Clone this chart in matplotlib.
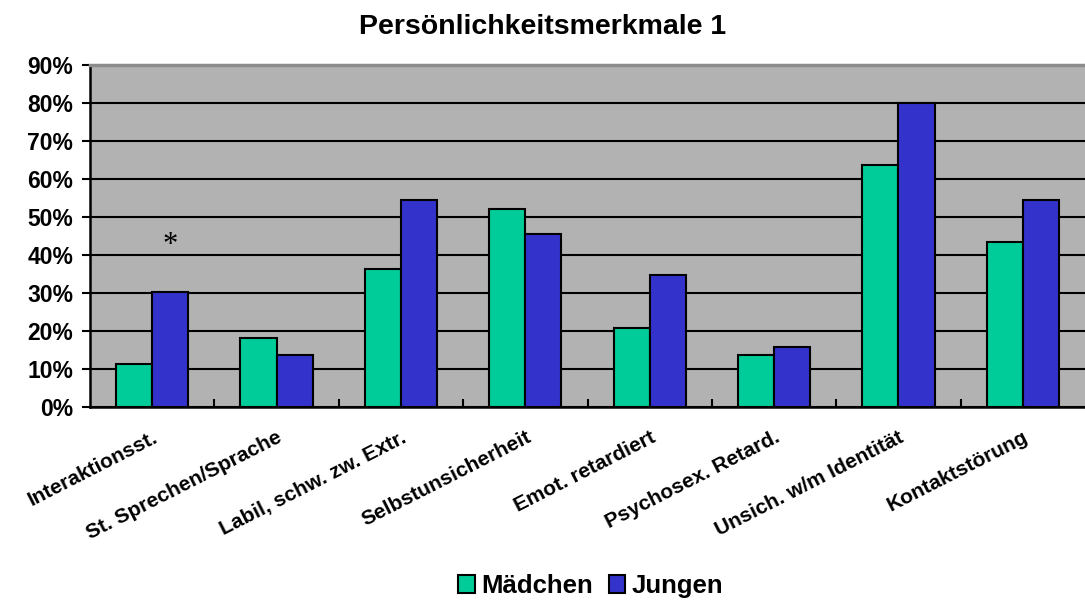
import matplotlib.pyplot as plt
import numpy as np
from matplotlib.ticker import PercentFormatter, MultipleLocator, FixedLocator

plt.rcParams['font.family'] = ['Liberation Sans', 'DejaVu Sans']

# ── data ──────────────────────────────────────────────────────────────────────
categories = ['Interaktionsst.', 'St. Sprechen/Sprache', 'Labil, schw. zw. Extr.',
              'Selbstunsicherheit', 'Emot. retardiert', 'Psychosex. Retard.',
              'Unsich. w/m Identität', 'Kontaktstörung']
maedchen = [11.4, 18.2, 36.4, 52.2, 20.8, 13.6, 63.6, 43.3]
jungen   = [30.2, 13.6, 54.5, 45.4, 34.8, 15.9, 80.0, 54.5]
series_labels = ['Mädchen', 'Jungen']
colors = ['#00CC99', '#3333CC']

# ── figure ────────────────────────────────────────────────────────────────────
fig = plt.figure(figsize=(10.85, 6.04), dpi=100)
ax = fig.add_axes([90/1085, 197/604, 995/1085, 342/604])

x = np.arange(len(categories))
width = 0.29
ax.bar(x - width/2, maedchen, width, color=colors[0], edgecolor='black',
       linewidth=1.5, label=series_labels[0], zorder=3)
ax.bar(x + width/2, jungen, width, color=colors[1], edgecolor='black',
       linewidth=1.5, label=series_labels[1], zorder=3)

ax.set_facecolor('#B2B2B2')
ax.set_xlim(-0.5, len(categories) - 0.5)
ax.set_ylim(0, 90)
ax.yaxis.set_major_locator(MultipleLocator(10))
ax.yaxis.set_major_formatter(PercentFormatter(decimals=0))
ax.set_axisbelow(True)
ax.yaxis.grid(True, color='black', linewidth=1.5)

for side in ('left', 'bottom'):
    ax.spines[side].set_linewidth(1.8)
    ax.spines[side].set_color('black')
ax.spines['right'].set_visible(False)
ax.spines['top'].set_color('#8C8C8C')
ax.spines['top'].set_linewidth(2.5)

ax.tick_params(axis='y', direction='out', length=6, width=1.5,
               labelsize=16.5, pad=6)
for lbl in ax.get_yticklabels():
    lbl.set_fontweight('bold')

# category ticks at the boundaries, labels at the centers
ax.xaxis.set_major_locator(FixedLocator(x[1:] - 0.5))
ax.tick_params(axis='x', which='major', direction='in', length=6, width=1.5,
               labelbottom=False)
ax.set_xticks(x, minor=True)
ax.set_xticklabels(categories, minor=True, rotation=27, ha='right',
                   rotation_mode='anchor', fontsize=15, fontweight='bold')
ax.tick_params(axis='x', which='minor', length=0, pad=15)

# significance marker
ax.text(x[0] + width/2, 42.5, '*', ha='center', va='center', fontsize=22,
        family='Liberation Serif')

fig.suptitle('Persönlichkeitsmerkmale 1', x=0.5, y=1 - 27/604, va='center',
             fontsize=20.5, fontweight='bold')

fig.legend(loc='center', bbox_to_anchor=(591/1085, 1 - 586/604), ncol=2,
           frameon=False, handlelength=0.65, handleheight=0.65,
           handletextpad=0.25, columnspacing=0.6,
           prop={'size': 18.5, 'weight': 'bold'})

fig.savefig('out.png', dpi=100)
